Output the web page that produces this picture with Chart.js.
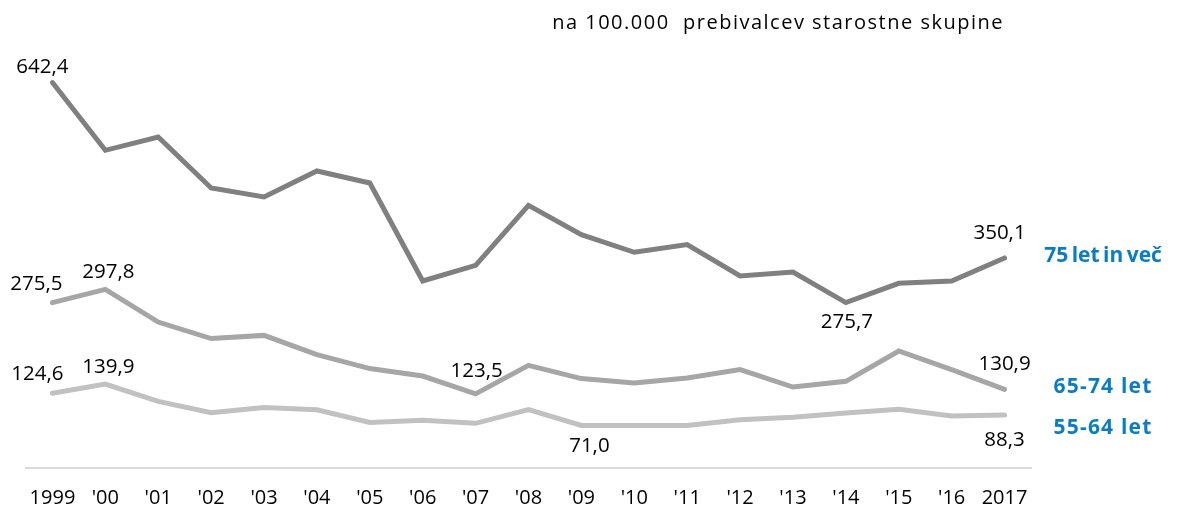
<!DOCTYPE html>
<html>
<head>
<meta charset="utf-8">
<script src="https://cdn.jsdelivr.net/npm/chart.js@4.4.1/dist/chart.umd.min.js"></script>
<style>
  html, body { margin: 0; padding: 0; background: #ffffff; }
  #wrap { position: relative; width: 1189px; height: 513px; }
</style>
</head>
<body>
<div id="wrap"><canvas id="c"></canvas></div>
<script>
// ---- data ----
const categories = ['1999', "'00", "'01", "'02", "'03", "'04", "'05", "'06", "'07", "'08", "'09", "'10", "'11", "'12", "'13", "'14", "'15", "'16", '2017'];
const seriesNames = ['75 let in več', '65-74 let', '55-64 let'];
const values75 = [642.4, 529.5, 551.7, 466.7, 451.7, 495.0, 475.0, 311.7, 337.8, 437.8, 389.0, 359.5, 372.3, 320.0, 326.7, 275.7, 307.8, 311.7, 350.1];
const values65 = [275.5, 297.8, 243.3, 215.7, 221.0, 189.0, 165.7, 153.3, 123.5, 171.0, 149.0, 141.7, 150.0, 164.0, 135.0, 144.5, 195.0, 164.0, 130.9];
const values55 = [124.6, 139.9, 111.0, 92.0, 101.0, 97.0, 76.0, 79.5, 74.5, 97.5, 71.0, 71.0, 71.0, 80.5, 84.5, 91.5, 98.0, 86.5, 88.3];
const subtitle = 'na 100.000  prebivalcev starostne skupine';

// ---- styling (kept separate from data) ----
const lineColors = ['#808080', '#a6a6a6', '#c1c1c1'];
const nameColor = '#0b7dc3';
// labelled point index -> [dx, dy] offset of the value label
const labelOffsets = [
  { 0: [-10, -15], 15: [1, 20], 18: [-5, -25] },
  { 0: [-16, -19], 1: [3, -17], 8: [1, -23], 18: [0, -25] },
  { 0: [-15, -19], 1: [3, -17], 10: [8, 21], 18: [0, 25] }
];
const nameOffsetsY = [-2, -2, 13];
const nameLetterSpacing = ['0px', '1.2px', '1.2px'];
const nameWordSpacing = ['-2px', '0px', '0px'];

const fmt = v => v.toFixed(1).replace('.', ',');

const labelPlugin = {
  id: 'labels',
  afterDatasetsDraw(chart) {
    const ctx = chart.ctx;
    const area = chart.chartArea;
    ctx.save();
    ctx.textAlign = 'center';
    ctx.textBaseline = 'middle';
    chart.data.datasets.forEach((ds, i) => {
      const meta = chart.getDatasetMeta(i);
      ctx.letterSpacing = '0px';
      ctx.wordSpacing = '0px';
      ctx.font = '20.5px "Open Sans"';
      ctx.fillStyle = '#000000';
      Object.keys(labelOffsets[i]).forEach(k => {
        const idx = +k;
        const pt = meta.data[idx];
        const off = labelOffsets[i][k];
        ctx.fillText(fmt(ds.data[idx]), pt.x + off[0], pt.y + off[1]);
      });
      const last = meta.data[meta.data.length - 1];
      ctx.font = 'bold 21px "Open Sans"';
      ctx.letterSpacing = nameLetterSpacing[i];
      ctx.wordSpacing = nameWordSpacing[i];
      ctx.fillStyle = nameColor;
      ctx.fillText(ds.label, area.right + 72, last.y + nameOffsetsY[i]);
    });
    ctx.font = '20px "Open Sans"';
    ctx.letterSpacing = '1.5px';
    ctx.wordSpacing = '0px';
    ctx.fillStyle = '#000000';
    ctx.textAlign = 'right';
    ctx.fillText(subtitle, area.right - 27, 23);
    ctx.restore();
  }
};

const seriesValues = [values75, values65, values55];

new Chart(document.getElementById('c'), {
  type: 'line',
  data: {
    labels: categories,
    datasets: seriesValues.map((vals, i) => ({
      label: seriesNames[i],
      data: vals,
      borderColor: lineColors[i],
      backgroundColor: lineColors[i],
      borderWidth: 5,
      pointRadius: 0,
      tension: 0,
      borderCapStyle: 'round',
      borderJoinStyle: 'miter',
      fill: false
    }))
  },
  options: {
    responsive: true,
    maintainAspectRatio: false,
    animation: false,
    layout: { padding: { top: 48, left: 26, right: 158, bottom: 0 } },
    plugins: { legend: { display: false }, tooltip: { enabled: false }, title: { display: false } },
    scales: {
      x: {
        offset: true,
        grid: { display: false, drawTicks: false },
        border: { display: true, color: '#d9d9d9', width: 2 },
        ticks: { color: '#000000', font: { family: 'Open Sans', size: 20 }, padding: 18, maxRotation: 0, autoSkip: false },
        afterFit(scale) { scale.height = 45; }
      },
      y: {
        display: false,
        min: 0,
        max: 700
      }
    }
  },
  plugins: [labelPlugin]
});
</script>
</body>
</html>
